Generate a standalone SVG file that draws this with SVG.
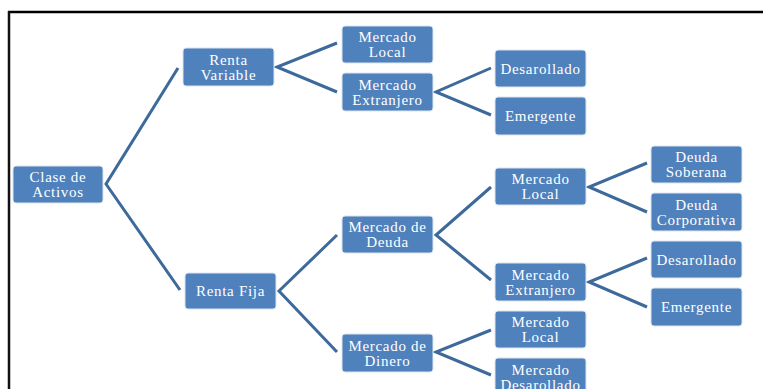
<svg xmlns="http://www.w3.org/2000/svg" width="763" height="389" viewBox="0 0 763 389">
<style>
.box{fill:#4f81bd;stroke:#dbe5f1;stroke-width:1}
.t{font-family:"Liberation Serif","Times New Roman",serif;font-size:15px;letter-spacing:0.7px;fill:#ffffff;text-anchor:middle}
.c{fill:none;stroke:#3d6a9b;stroke-width:3;stroke-linejoin:miter}
</style>
<rect x="0" y="0" width="763" height="389" fill="#ffffff"/>
<g id="frame">
<line x1="8" y1="12" x2="763" y2="12" stroke="#000" stroke-width="2.5"/>
<line x1="9" y1="11" x2="9" y2="389" stroke="#111" stroke-width="2.5"/>
</g>
<g id="connectors">
<polyline class="c" points="178,68 106,184 180,290"/>
<polyline class="c" points="337,43 277,67 337,92"/>
<polyline class="c" points="491,68 436,92 491,115"/>
<polyline class="c" points="337,235 279,291 337,352"/>
<polyline class="c" points="491,187 436,235 491,280"/>
<polyline class="c" points="491,330 436,352 491,375"/>
<polyline class="c" points="647,163 589,187 647,212"/>
<polyline class="c" points="647,258 589,282 647,307"/>
</g>
<g id="clase">
<rect class="box" x="13" y="166" width="90" height="37" rx="3"/>
<text class="t" x="58" y="182">Clase de</text>
<text class="t" x="58" y="197">Activos</text>
</g>
<g id="renta-variable">
<rect class="box" x="183" y="48" width="91" height="38" rx="3"/>
<text class="t" x="228.5" y="64.5">Renta</text>
<text class="t" x="228.5" y="79.5">Variable</text>
</g>
<g id="renta-fija">
<rect class="box" x="185" y="273" width="91" height="36" rx="3"/>
<text class="t" x="230.5" y="296">Renta Fija</text>
</g>
<g id="rv-mercado-local">
<rect class="box" x="342" y="26" width="91" height="37" rx="3"/>
<text class="t" x="387.5" y="42">Mercado</text>
<text class="t" x="387.5" y="57">Local</text>
</g>
<g id="rv-mercado-extranjero">
<rect class="box" x="342" y="73" width="91" height="38" rx="3"/>
<text class="t" x="387.5" y="89.5">Mercado</text>
<text class="t" x="387.5" y="104.5">Extranjero</text>
</g>
<g id="rv-desarollado">
<rect class="box" x="495" y="50" width="91" height="37" rx="3"/>
<text class="t" x="540.5" y="73.5">Desarollado</text>
</g>
<g id="rv-emergente">
<rect class="box" x="495" y="97" width="91" height="38" rx="3"/>
<text class="t" x="540.5" y="121">Emergente</text>
</g>
<g id="mercado-deuda">
<rect class="box" x="342" y="216" width="91" height="37" rx="3"/>
<text class="t" x="387.5" y="232">Mercado de</text>
<text class="t" x="387.5" y="247">Deuda</text>
</g>
<g id="mercado-dinero">
<rect class="box" x="342" y="334" width="91" height="38" rx="3"/>
<text class="t" x="387.5" y="350.5">Mercado de</text>
<text class="t" x="387.5" y="365.5">Dinero</text>
</g>
<g id="md-mercado-local">
<rect class="box" x="495" y="168" width="91" height="37" rx="3"/>
<text class="t" x="540.5" y="184">Mercado</text>
<text class="t" x="540.5" y="199">Local</text>
</g>
<g id="md-mercado-extranjero">
<rect class="box" x="495" y="263" width="91" height="38" rx="3"/>
<text class="t" x="540.5" y="279.5">Mercado</text>
<text class="t" x="540.5" y="294.5">Extranjero</text>
</g>
<g id="mdi-mercado-local">
<rect class="box" x="495" y="311" width="91" height="37" rx="3"/>
<text class="t" x="540.5" y="327">Mercado</text>
<text class="t" x="540.5" y="342">Local</text>
</g>
<g id="mdi-mercado-desarollado">
<rect class="box" x="495" y="358" width="91" height="38" rx="3"/>
<text class="t" x="540.5" y="374.5">Mercado</text>
<text class="t" x="540.5" y="389.5">Desarollado</text>
</g>
<g id="deuda-soberana">
<rect class="box" x="651" y="146" width="91" height="37" rx="3"/>
<text class="t" x="696.5" y="162">Deuda</text>
<text class="t" x="696.5" y="177">Soberana</text>
</g>
<g id="deuda-corporativa">
<rect class="box" x="651" y="193" width="91" height="38" rx="3"/>
<text class="t" x="696.5" y="209.5">Deuda</text>
<text class="t" x="696.5" y="224.5">Corporativa</text>
</g>
<g id="md-desarollado">
<rect class="box" x="651" y="241" width="91" height="37" rx="3"/>
<text class="t" x="696.5" y="264.5">Desarollado</text>
</g>
<g id="md-emergente">
<rect class="box" x="651" y="288" width="91" height="38" rx="3"/>
<text class="t" x="696.5" y="312">Emergente</text>
</g>
</svg>
